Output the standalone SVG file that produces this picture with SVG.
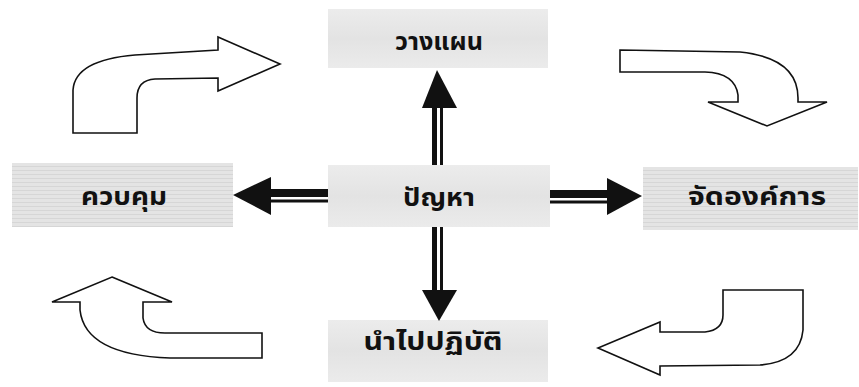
<svg xmlns="http://www.w3.org/2000/svg" width="859" height="387" viewBox="0 0 859 387">
  <defs>
    <pattern id="tex" width="6" height="4" patternUnits="userSpaceOnUse">
      <rect width="6" height="4" fill="#e4e4e4"/>
      <rect y="2" width="6" height="1" fill="#d6d6d6"/>
    </pattern>
    <linearGradient id="soft" x1="0" y1="0" x2="0" y2="1">
      <stop offset="0" stop-color="#ececec"/>
      <stop offset="0.5" stop-color="#e3e3e3"/>
      <stop offset="1" stop-color="#ebebeb"/>
    </linearGradient>
  </defs>
  <style>
    .box { stroke: none; }
    .lbl { font-family: 'Noto Sans Thai', 'Noto Sans', 'DejaVu Sans', sans-serif; font-weight: bold; font-size: 25px; fill: #111; text-anchor: middle; }
    .curve { fill: #ffffff; stroke: #111; stroke-width: 1.6; stroke-linejoin: miter; }
    .head { fill: #111; }
    .shaft { fill: #111; }
  </style>
  <rect width="859" height="387" fill="#ffffff"/>

  <g id="node-plan">
    <rect class="box" x="328" y="9" width="220" height="59" fill="url(#soft)"/>
    <text class="lbl" x="439" y="50" textLength="88" lengthAdjust="spacingAndGlyphs">วางแผน</text>
  </g>
  <g id="node-problem">
    <rect class="box" x="328" y="165" width="222" height="62" fill="url(#soft)"/>
    <text class="lbl" x="439" y="206" textLength="72" lengthAdjust="spacingAndGlyphs">ปัญหา</text>
  </g>
  <g id="node-control">
    <rect class="box" x="12" y="163" width="221" height="64" fill="url(#tex)"/>
    <text class="lbl" x="124" y="205" textLength="86" lengthAdjust="spacingAndGlyphs">ควบคุม</text>
  </g>
  <g id="node-organize">
    <rect class="box" x="643" y="167" width="215" height="63" fill="url(#tex)"/>
    <text class="lbl" x="757" y="205" textLength="138" lengthAdjust="spacingAndGlyphs">จัดองค์การ</text>
  </g>
  <g id="node-implement">
    <rect class="box" x="328" y="320" width="220" height="62" fill="url(#soft)"/>
    <text class="lbl" x="433" y="350" textLength="139" lengthAdjust="spacingAndGlyphs">นำไปปฏิบัติ</text>
  </g>

  <g id="connectors">
    <!-- up -->
    <rect class="shaft" x="432" y="106" width="5" height="59"/>
    <rect class="shaft" x="440" y="106" width="3" height="59"/>
    <polygon class="head" points="437,70 457,108 422,108"/>
    <!-- down -->
    <rect class="shaft" x="432" y="227" width="5" height="64"/>
    <rect class="shaft" x="440" y="227" width="3" height="64"/>
    <polygon class="head" points="422,290 457,290 439,321"/>
    <!-- left -->
    <rect class="shaft" x="268" y="189" width="60" height="8"/>
    <rect class="shaft" x="268" y="199.5" width="60" height="3"/>
    <polygon class="head" points="233,195 271,177 271,215"/>
    <!-- right -->
    <rect class="shaft" x="550" y="190" width="60" height="8"/>
    <rect class="shaft" x="550" y="200.5" width="60" height="3"/>
    <polygon class="head" points="607,178 642,196 607,215"/>

    <!-- cycle arrows -->
    <path class="curve" d="M73,133 L73,90 Q75,60 135,55 L218,50 L218,37 L280,64 L218,91 L218,78 L155,79 Q137,80 137,98 L137,133 Z"/>
    <path class="curve" d="M620,50 L740,52 Q798,58 798,98 L798,102 L827,102 L767,126 L708,102 L738,102 L738,95 Q735,73 705,72 L620,72 Z"/>
    <path class="curve" d="M723,290 L803,290 L803,330 Q800,362 760,365 L660,366 L660,375 L598,348 L660,322 L660,332 L705,332 Q723,330 723,315 Z"/>
    <path class="curve" d="M112,277 L172,302 L143,302 L143,318 Q145,333 165,333 L262,333 L262,358 L170,358 Q85,355 80,310 L80,302 L52,302 Z"/>
  </g>
</svg>
